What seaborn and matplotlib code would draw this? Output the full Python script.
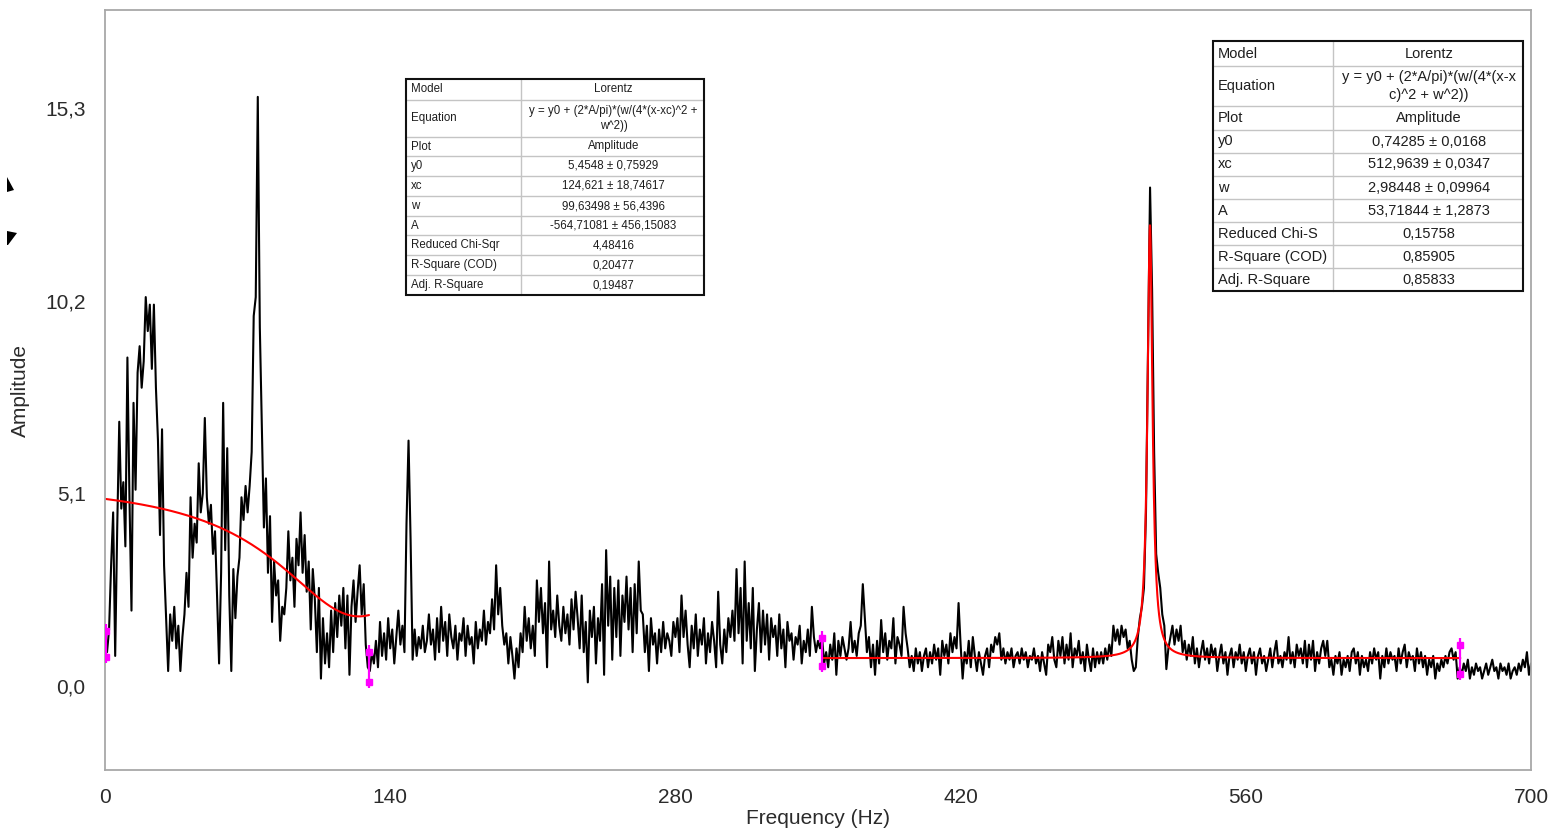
import numpy as np
import pandas as pd
import matplotlib
matplotlib.use("Agg")
import matplotlib.pyplot as plt
import seaborn as sns
from matplotlib.patches import Rectangle, Polygon

# ---------------------------------------------------------------------------
# Amplitude spectrum, one value per Hz, split into 100 Hz bands
# ---------------------------------------------------------------------------
amp_000_099 = [
    1.2, 0.9, 1.5, 3.2, 4.6, 0.8, 4.2, 7.0, 4.7, 5.4,
    3.7, 8.7, 5.0, 2.0, 7.5, 5.2, 8.3, 9.0, 7.9, 8.6,
    10.3, 9.4, 10.1, 8.4, 10.1, 7.9, 6.5, 4.0, 6.8, 3.2,
    1.8, 0.4, 1.9, 1.2, 2.1, 1.0, 1.6, 0.4, 1.3, 1.9,
    3.0, 2.1, 5.0, 3.4, 4.3, 3.8, 5.9, 4.6, 5.1, 7.1,
    5.0, 4.3, 4.8, 3.5, 4.1, 2.4, 0.6, 3.0, 7.5, 3.6,
    6.3, 2.4, 0.4, 3.1, 1.8, 2.9, 3.4, 5.0, 4.4, 5.3,
    4.6, 5.3, 6.2, 9.8, 10.3, 15.6, 9.5, 6.8, 4.2, 5.5,
    3.0, 4.5, 1.7, 3.3, 2.4, 2.8, 1.2, 2.1, 1.9, 2.6,
    4.1, 2.8, 3.4, 2.1, 3.9, 3.2, 4.6, 3.0, 4.0, 2.5,
]
amp_100_199 = [
    3.3, 1.5, 3.1, 2.3, 0.9, 2.6, 0.2, 1.8, 0.6, 1.4,
    0.5, 2.0, 0.9, 2.2, 1.3, 2.4, 1.6, 2.6, 1.0, 2.4,
    0.3, 2.1, 2.8, 1.7, 2.5, 3.2, 1.9, 2.7, 1.1, 0.5,
    0.4, 0.9, 0.6, 1.2, 0.5, 1.7, 0.8, 1.4, 0.7, 1.8,
    1.0, 1.5, 0.6, 1.3, 2.0, 1.1, 1.6, 0.9, 4.3, 6.5,
    3.9, 0.7, 1.5, 0.8, 1.3, 1.0, 1.6, 0.9, 1.2, 1.9,
    1.1, 1.5, 0.7, 1.8, 0.9, 2.1, 1.2, 1.7, 0.8, 1.9,
    1.3, 1.0, 1.6, 0.7, 1.4, 1.2, 1.8, 0.8, 1.6, 1.1,
    1.3, 0.6, 1.7, 1.0, 1.5, 1.2, 2.0, 1.1, 1.7, 1.4,
    2.3, 1.5, 3.2, 1.9, 2.6, 1.6, 1.1, 1.4, 0.6, 1.3,
]
amp_200_299 = [
    0.8, 0.2, 1.0, 0.5, 1.4, 0.9, 2.1, 1.2, 1.8, 1.0,
    1.6, 0.8, 2.8, 1.7, 2.6, 1.4, 2.2, 0.5, 3.3, 1.5,
    2.0, 1.3, 2.4, 1.6, 1.2, 2.1, 1.4, 1.9, 1.1, 2.3,
    1.5, 2.5, 1.8, 1.0, 2.4, 0.9, 1.7, 0.1, 2.0, 1.3,
    2.1, 0.6, 1.8, 1.2, 2.7, 0.3, 3.6, 1.6, 2.9, 0.7,
    2.6, 1.3, 2.8, 0.8, 2.4, 1.7, 2.9, 1.5, 2.6, 0.9,
    2.7, 1.4, 3.3, 2.0, 1.9, 0.9, 1.6, 0.4, 1.8, 1.1,
    1.4, 0.6, 1.5, 0.9, 1.7, 1.0, 1.4, 1.2, 0.8, 1.7,
    1.3, 1.8, 0.9, 2.4, 1.3, 2.0, 1.1, 0.5, 1.6, 1.0,
    1.9, 0.8, 1.5, 1.1, 1.8, 0.6, 1.4, 0.9, 1.7, 1.2,
]
amp_300_399 = [
    0.5, 2.5, 1.1, 0.6, 1.5, 0.9, 1.8, 1.3, 2.0, 1.2,
    3.1, 1.4, 2.6, 0.6, 3.3, 1.2, 2.2, 1.0, 2.6, 0.4,
    1.5, 2.2, 0.9, 2.0, 1.1, 1.9, 0.7, 1.8, 1.3, 1.6,
    0.8, 1.9, 1.0, 1.5, 0.5, 1.7, 1.2, 1.4, 0.7, 1.3,
    1.1, 1.6, 0.6, 1.2, 0.9, 1.5, 0.8, 2.1, 1.3, 0.9,
    1.2, 1.0, 1.3, 0.6, 0.9, 0.5, 1.1, 0.7, 1.4, 0.3,
    1.2, 0.8, 1.3, 1.0, 0.7, 1.0, 1.7, 0.9, 1.2, 0.8,
    1.4, 1.6, 2.7, 1.8, 0.9, 1.3, 0.5, 1.1, 0.3, 1.2,
    0.6, 1.75, 0.9, 1.4, 0.7, 1.2, 1.0, 1.8, 0.6, 1.3,
    1.1, 0.8, 2.1, 1.4, 1.0, 0.5, 0.8, 0.4, 1.0, 0.6,
]
amp_400_499 = [
    0.9, 0.4, 0.8, 1.0, 0.5, 0.9, 0.6, 1.1, 0.7, 1.0,
    0.3, 1.2, 0.8, 1.1, 0.6, 1.4, 0.9, 1.3, 1.0, 2.2,
    1.1, 0.2, 0.9, 0.6, 1.2, 0.5, 1.3, 0.8, 0.4, 0.9,
    0.6, 0.3, 0.8, 1.0, 0.5, 1.1, 0.9, 1.3, 1.1, 1.4,
    0.7, 1.0, 0.6, 0.9, 0.7, 1.0, 0.5, 0.8, 0.9, 0.6,
    1.0, 0.7, 0.9, 0.5, 0.8, 0.7, 1.0, 0.6, 0.8, 0.4,
    0.9, 0.6, 0.3, 1.1, 0.9, 1.3, 0.7, 0.5, 1.2, 0.8,
    1.3, 0.6, 1.1, 0.7, 1.4, 0.5, 1.0, 0.8, 1.2, 0.6,
    0.9, 0.4, 1.1, 0.7, 0.4, 1.0, 0.5, 0.9, 0.6, 0.9,
    0.6, 1.0, 0.7, 1.1, 0.8, 1.6, 1.2, 1.5, 1.1, 1.6,
]
amp_500_599 = [
    1.3, 1.5, 1.0, 1.2, 0.7, 0.4, 0.5, 1.3, 1.8, 2.1,
    2.6, 4.6, 8.8, 13.2, 10.5, 6.2, 3.5, 3.0, 2.6, 1.9,
    1.6, 0.45, 1.0, 1.3, 1.6, 1.1, 1.5, 1.2, 1.6, 0.9,
    1.2, 0.7, 1.1, 0.8, 1.3, 0.6, 1.0, 0.5, 0.9, 1.2,
    0.7, 1.0, 0.6, 1.1, 0.8, 1.0, 0.4, 0.8, 1.1, 0.6,
    0.9, 0.3, 0.8, 1.0, 0.5, 0.9, 0.7, 1.1, 0.6, 0.9,
    0.4, 0.8, 1.0, 0.6, 0.9, 0.3, 0.8, 1.0, 0.6, 0.8,
    0.4, 0.7, 1.0, 0.5, 0.9, 1.2, 0.6, 0.8, 0.5, 0.9,
    0.7, 1.3, 0.6, 0.9, 0.5, 1.1, 0.8, 1.0, 0.6, 1.2,
    0.5, 1.1, 0.7, 1.2, 0.4, 0.9, 0.6, 1.0, 1.2, 0.8,
]
amp_600_700 = [
    1.2, 0.5, 0.7, 0.3, 0.8, 0.6, 0.9, 0.3, 0.7, 0.5,
    0.8, 0.4, 0.9, 1.0, 0.6, 0.9, 0.3, 0.8, 0.5, 0.7,
    0.4, 0.9, 0.6, 1.0, 0.7, 0.9, 0.2, 0.8, 0.5, 1.0,
    0.6, 0.9, 0.7, 0.8, 0.4, 1.0, 0.6, 0.9, 1.1, 0.5,
    0.9, 0.7, 0.8, 0.4, 1.0, 0.6, 0.9, 0.5, 0.8, 0.3,
    0.7, 0.5, 0.8, 0.2, 0.6, 0.4, 0.7, 0.5, 0.8, 0.6,
    0.9, 1.0, 0.7, 0.9, 0.2, 0.5, 0.3, 0.6, 0.4, 0.7,
    0.2, 0.5, 0.3, 0.6, 0.4, 0.5, 0.2, 0.4, 0.6, 0.3,
    0.5, 0.7, 0.4, 0.5, 0.2, 0.6, 0.4, 0.5, 0.3, 0.6,
    0.2, 0.4, 0.5, 0.3, 0.6, 0.4, 0.7, 0.5, 0.9, 0.3,
    0.6,
]

# Lorentz fit results (low-frequency band and the main resonance)
fit_low = {"y0": 5.4548, "xc": 124.621, "w": 99.63498, "A": -564.71081}
fit_low_range = (0.0, 129.6)
fit_peak = {"y0": 0.74285, "xc": 512.9639, "w": 2.98448, "A": 53.71844}
fit_peak_range = (352.0, 665.3)

# Data-reader range markers: (frequency, lower amplitude, upper amplitude)
range_markers = [(0.5, 0.66, 1.59), (129.6, 0.0, 1.03),
                 (352.0, 0.42, 1.40), (665.3, 0.21, 1.22)]

x_ticks = [0, 140, 280, 420, 560, 700]
y_ticks = [0.0, 5.1, 10.2, 15.3]
y_tick_labels = ["0,0", "5,1", "10,2", "15,3"]

table_low = [
    ("Model", "Lorentz"),
    ("Equation", "y = y0 + (2*A/pi)*(w/(4*(x-xc)^2 +\nw^2))"),
    ("Plot", "Amplitude"),
    ("y0", "5,4548 \u00b1 0,75929"),
    ("xc", "124,621 \u00b1 18,74617"),
    ("w", "99,63498 \u00b1 56,4396"),
    ("A", "-564,71081 \u00b1 456,15083"),
    ("Reduced Chi-Sqr", "4,48416"),
    ("R-Square (COD)", "0,20477"),
    ("Adj. R-Square", "0,19487"),
]
table_peak = [
    ("Model", "Lorentz"),
    ("Equation", "y = y0 + (2*A/pi)*(w/(4*(x-x\nc)^2 + w^2))"),
    ("Plot", "Amplitude"),
    ("y0", "0,74285 \u00b1 0,0168"),
    ("xc", "512,9639 \u00b1 0,0347"),
    ("w", "2,98448 \u00b1 0,09964"),
    ("A", "53,71844 \u00b1 1,2873"),
    ("Reduced Chi-S", "0,15758"),
    ("R-Square (COD)", "0,85905"),
    ("Adj. R-Square", "0,85833"),
]


def lorentz(x, y0, xc, w, A):
    return y0 + (2 * A / np.pi) * (w / (4 * (x - xc) ** 2 + w ** 2))


amplitude = (amp_000_099 + amp_100_199 + amp_200_299 + amp_300_399
             + amp_400_499 + amp_500_599 + amp_600_700)
spectrum = pd.DataFrame({"Frequency": np.arange(len(amplitude), dtype=float),
                         "Amplitude": amplitude})

xf1 = np.linspace(*fit_low_range, 400)
xf2 = np.linspace(*fit_peak_range, 6000)
fit1 = pd.DataFrame({"Frequency": xf1, "Amplitude": lorentz(xf1, **fit_low)})
fit2 = pd.DataFrame({"Frequency": xf2, "Amplitude": lorentz(xf2, **fit_peak)})

# ---------------------------------------------------------------------------
sns.set_style("white")
plt.rcParams["font.family"] = ["Liberation Sans", "DejaVu Sans"]

W, H = 1553, 830
fig = plt.figure(figsize=(W / 100, H / 100), dpi=100)
fig.patch.set_facecolor("white")

ax = fig.add_axes([105 / W, 1 - 770 / H, (1531 - 105) / W, (770 - 10) / H])
sns.lineplot(data=spectrum, x="Frequency", y="Amplitude", ax=ax,
             color="black", lw=1.5, estimator=None, sort=False)
sns.lineplot(data=fit1, x="Frequency", y="Amplitude", ax=ax,
             color="#ff0000", lw=1.5, estimator=None, sort=False)
sns.lineplot(data=fit2, x="Frequency", y="Amplitude", ax=ax,
             color="#ff0000", lw=1.5, estimator=None, sort=False)

for f, lo, hi in range_markers:
    ax.plot([f, f], [lo - 0.05, hi + 0.05], color="#ff00ff", lw=1.6,
            solid_capstyle="butt", zorder=5)
    ax.plot([f, f], [lo + 0.12, hi - 0.12], ls="none", marker="s", ms=4,
            color="#ff00ff", zorder=5)

ax.set_xlim(0, 700)
ax.set_ylim(-2.22, 17.9)
ax.set_xticks(x_ticks)
ax.set_xticklabels([str(t) for t in x_ticks])
ax.set_yticks(y_ticks)
ax.set_yticklabels(y_tick_labels)
ax.tick_params(axis="both", length=0, labelsize=15, labelcolor="#2b2b2b")
ax.tick_params(axis="x", pad=13)
ax.tick_params(axis="y", pad=14)
for sp in ax.spines.values():
    sp.set_color("#a8a8a8")
    sp.set_linewidth(1.3)
    sp.set_visible(True)

ax.set_xlabel("Frequency (Hz)", fontsize=15, color="#2b2b2b")
ax.set_ylabel("Amplitude", fontsize=15, color="#2b2b2b")
ax.xaxis.label.set_va("center")
ax.yaxis.label.set_va("center")
ax.xaxis.set_label_coords((818 - 105) / 1426, (770 - 818) / 760)
ax.yaxis.set_label_coords((20 - 105) / 1426, (770 - 390) / 760)

# ---------------------------------------------------------------------------
# Overlay in pixel units for the fit-result tables
ov = fig.add_axes([0, 0, 1, 1], zorder=10)
ov.set_xlim(0, W)
ov.set_ylim(H, 0)
ov.axis("off")


def draw_table(x0, xm, x1, edges, rows, fs, pad):
    ov.add_patch(Rectangle((x0, edges[0]), x1 - x0, edges[-1] - edges[0],
                           facecolor="white", edgecolor="none", zorder=1))
    for y in edges[1:-1]:
        ov.plot([x0, x1], [y, y], color="#c4c4c4", lw=1.0, zorder=2)
    ov.plot([xm, xm], [edges[0], edges[-1]], color="#c4c4c4", lw=1.0, zorder=2)
    ov.add_patch(Rectangle((x0, edges[0]), x1 - x0, edges[-1] - edges[0],
                           facecolor="none", edgecolor="#111111", lw=1.5,
                           zorder=3))
    for i, (key, val) in enumerate(rows):
        top, bot = edges[i], edges[i + 1]
        yc = (top + bot) / 2
        clip1 = Rectangle((x0, top), xm - x0, bot - top, transform=ov.transData)
        clip2 = Rectangle((xm, top), x1 - xm, bot - top, transform=ov.transData)
        t1 = ov.text(x0 + pad, yc, key, ha="left", va="center", fontsize=fs,
                     color="#1e1e1e", zorder=4, clip_on=True)
        t1.set_clip_path(clip1)
        t2 = ov.text((xm + x1) / 2 + 1, yc, val, ha="center", va="center",
                     fontsize=fs, color="#1e1e1e", multialignment="center",
                     linespacing=1.4, zorder=4, clip_on=True)
        t2.set_clip_path(clip2)


draw_table(406, 521, 704, [79, 100, 137, 156, 176, 196, 216, 235, 255, 275, 295],
           table_low, 8.3, 5)
draw_table(1213, 1333, 1523, [41, 66, 106, 130, 153, 176, 199, 222, 245, 268, 291],
           table_peak, 10.5, 5)

# Small pane-splitter arrows at the left window edge
ov.add_patch(Polygon([(7, 177), (14, 190), (7, 192)], closed=True,
                     facecolor="black", edgecolor="none"))
ov.add_patch(Polygon([(7, 231), (17, 233), (8, 245), (7, 245)], closed=True,
                     facecolor="black", edgecolor="none"))

fig.savefig("out.png", dpi=100, facecolor="white")
